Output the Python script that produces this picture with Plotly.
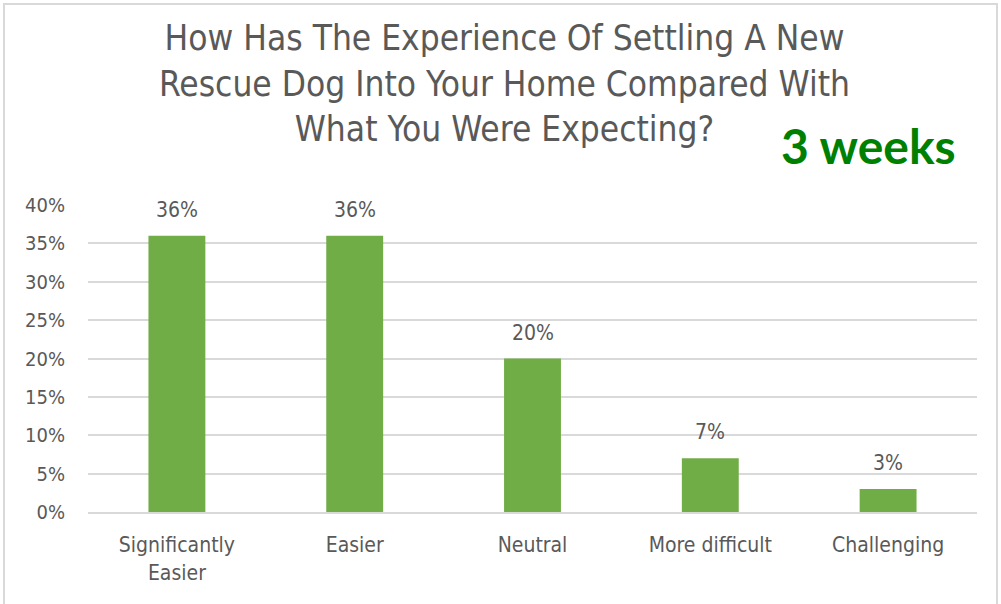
import plotly.graph_objects as go

# Dane
categories = ["Significantly<br>Easier", "Easier", "Neutral", "More difficult", "Challenging"]
values = [0.36, 0.36, 0.20, 0.07, 0.03]
labels = ["36%", "36%", "20%", "7%", "3%"]

title_text = ("How Has The Experience Of Settling A New<br>"
              "Rescue Dog Into Your Home Compared With<br>"
              "What You Were Expecting?")

grey = "#595959"
font_main = "DejaVu Sans Condensed, Liberation Sans, sans-serif"

fig = go.Figure(go.Bar(
    x=categories,
    y=values,
    marker=dict(color="#70AD47", line=dict(width=0)),
    width=0.32,
))

# Etykiety nad słupkami
for c, v, t in zip(categories, values, labels):
    fig.add_annotation(x=c, y=v, text=t, showarrow=False, yshift=26, yanchor="middle",
                       font=dict(size=21, color=grey, family=font_main))

# Tytuł
fig.add_annotation(text=title_text, xref="paper", yref="paper", x=0.469, y=1.397,
                   xanchor="center", yanchor="middle", showarrow=False,
                   font=dict(size=35, color=grey, family=font_main))

fig.add_annotation(text="<b>3 weeks</b>", xref="paper", yref="paper",
                   x=0.9786, y=1.195, xanchor="right", yanchor="middle", showarrow=False,
                   font=dict(size=48, color="#008000", family="Lato, sans-serif"))

# Ramka wykresu
fig.add_shape(type="rect", xref="paper", yref="paper",
              x0=-0.0945, x1=1.0225, y0=-0.33, y1=1.6547,
              line=dict(color="#D9D9D9", width=2), fillcolor="rgba(0,0,0,0)", layer="below")

fig.update_layout(
    width=1001,
    height=604,
    margin=dict(l=88, r=24, t=205, b=92),
    paper_bgcolor="white",
    plot_bgcolor="white",
    showlegend=False,
    font=dict(family=font_main, color=grey, size=20),
    xaxis=dict(showgrid=False, showline=True, linecolor="#D9D9D9", linewidth=2,
               automargin=False, ticks="", ticklabelstandoff=13,
               tickfont=dict(size=21, color=grey)),
    yaxis=dict(range=[0, 0.4], dtick=0.05, tickformat=".0%", showgrid=True,
               gridcolor="#D9D9D9", gridwidth=2, zeroline=False, showline=False,
               automargin=False, ticks="", ticklabelstandoff=22,
               tickfont=dict(size=20, color=grey)),
)

fig.write_html("out.html", config={"displayModeBar": False},
               post_script="document.body.style.margin='0';")
